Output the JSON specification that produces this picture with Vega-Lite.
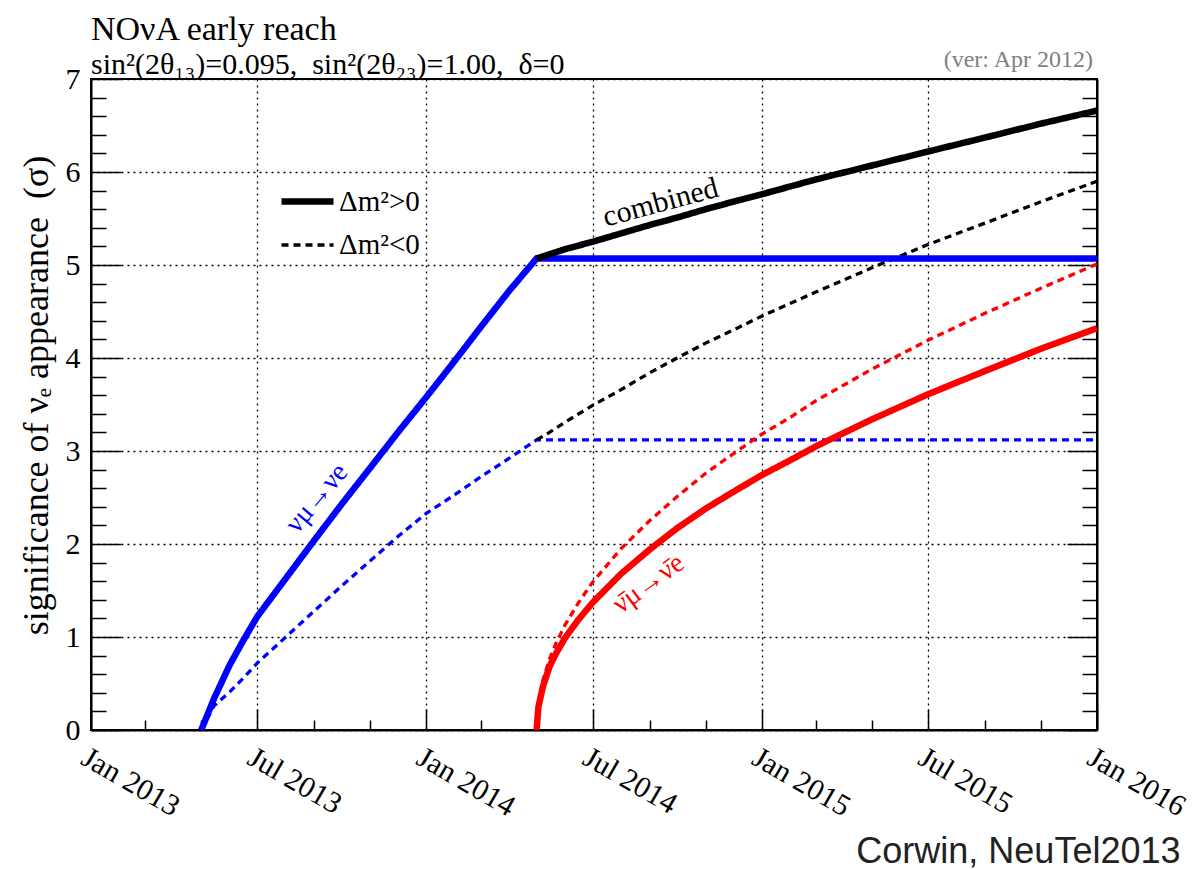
{
  "$schema": "https://vega.github.io/schema/vega-lite/v6.json",
  "width": 1006,
  "height": 651,
  "autosize": {"type": "none"},
  "padding": {"left": 91, "top": 79, "right": 103, "bottom": 139},
  "background": "white",
  "title": {
    "text": "NOνA early reach",
    "subtitle": "sin²(2θ₁₃)=0.095,\u00a0\u00a0sin²(2θ₂₃)=1.00,\u00a0\u00a0δ=0",
    "anchor": "start",
    "frame": "group",
    "font": "Liberation Serif",
    "fontSize": 34,
    "fontWeight": "normal",
    "color": "black",
    "subtitleFont": "Liberation Serif",
    "subtitleFontSize": 30,
    "subtitleColor": "black",
    "offset": -32,
    "subtitlePadding": 3
  },
  "config": {
    "font": "Liberation Serif",
    "view": {"stroke": "black", "strokeWidth": 2},
    "axis": {
      "domainColor": "black",
      "domainWidth": 2,
      "tickColor": "black",
      "tickWidth": 1.5,
      "gridColor": "black",
      "gridDash": [2, 4],
      "gridWidth": 1.3,
      "labelFont": "Liberation Serif",
      "labelFontSize": 30,
      "labelColor": "black",
      "titleFont": "Liberation Serif",
      "titleFontSize": 36,
      "titleFontWeight": "normal",
      "titleColor": "black",
      "labelOverlap": false
    },
    "legend": {
      "labelFont": "Liberation Serif",
      "labelFontSize": 29,
      "labelColor": "black"
    },
    "text": {"font": "Liberation Serif"}
  },
  "datasets": {
    "curves": [
      {"date": "2013/05/01", "sigma": 0, "channel": "nu", "hierarchy": "Δm²>0"},
      {"date": "2013/05/15", "sigma": 0.34, "channel": "nu", "hierarchy": "Δm²>0"},
      {"date": "2013/06/01", "sigma": 0.7, "channel": "nu", "hierarchy": "Δm²>0"},
      {"date": "2013/06/15", "sigma": 0.95, "channel": "nu", "hierarchy": "Δm²>0"},
      {"date": "2013/07/01", "sigma": 1.22, "channel": "nu", "hierarchy": "Δm²>0"},
      {"date": "2013/08/01", "sigma": 1.63, "channel": "nu", "hierarchy": "Δm²>0"},
      {"date": "2013/09/01", "sigma": 2.04, "channel": "nu", "hierarchy": "Δm²>0"},
      {"date": "2013/10/01", "sigma": 2.43, "channel": "nu", "hierarchy": "Δm²>0"},
      {"date": "2013/11/01", "sigma": 2.82, "channel": "nu", "hierarchy": "Δm²>0"},
      {"date": "2013/12/01", "sigma": 3.2, "channel": "nu", "hierarchy": "Δm²>0"},
      {"date": "2014/01/01", "sigma": 3.58, "channel": "nu", "hierarchy": "Δm²>0"},
      {"date": "2014/02/01", "sigma": 3.97, "channel": "nu", "hierarchy": "Δm²>0"},
      {"date": "2014/03/01", "sigma": 4.33, "channel": "nu", "hierarchy": "Δm²>0"},
      {"date": "2014/04/01", "sigma": 4.72, "channel": "nu", "hierarchy": "Δm²>0"},
      {"date": "2014/05/01", "sigma": 5.07, "channel": "nu", "hierarchy": "Δm²>0"},
      {"date": "2016/01/01", "sigma": 5.07, "channel": "nu", "hierarchy": "Δm²>0"},

      {"date": "2013/05/01", "sigma": 0, "channel": "nu", "hierarchy": "Δm²<0"},
      {"date": "2013/05/15", "sigma": 0.26, "channel": "nu", "hierarchy": "Δm²<0"},
      {"date": "2013/06/01", "sigma": 0.41, "channel": "nu", "hierarchy": "Δm²<0"},
      {"date": "2013/06/15", "sigma": 0.55, "channel": "nu", "hierarchy": "Δm²<0"},
      {"date": "2013/07/01", "sigma": 0.72, "channel": "nu", "hierarchy": "Δm²<0"},
      {"date": "2013/08/01", "sigma": 1.0, "channel": "nu", "hierarchy": "Δm²<0"},
      {"date": "2013/09/01", "sigma": 1.28, "channel": "nu", "hierarchy": "Δm²<0"},
      {"date": "2013/10/01", "sigma": 1.55, "channel": "nu", "hierarchy": "Δm²<0"},
      {"date": "2013/11/01", "sigma": 1.82, "channel": "nu", "hierarchy": "Δm²<0"},
      {"date": "2013/12/01", "sigma": 2.08, "channel": "nu", "hierarchy": "Δm²<0"},
      {"date": "2014/01/01", "sigma": 2.33, "channel": "nu", "hierarchy": "Δm²<0"},
      {"date": "2014/02/01", "sigma": 2.53, "channel": "nu", "hierarchy": "Δm²<0"},
      {"date": "2014/03/01", "sigma": 2.72, "channel": "nu", "hierarchy": "Δm²<0"},
      {"date": "2014/04/01", "sigma": 2.92, "channel": "nu", "hierarchy": "Δm²<0"},
      {"date": "2014/05/01", "sigma": 3.12, "channel": "nu", "hierarchy": "Δm²<0"},
      {"date": "2016/01/01", "sigma": 3.12, "channel": "nu", "hierarchy": "Δm²<0"},

      {"date": "2014/05/01", "sigma": 0, "channel": "nubar", "hierarchy": "Δm²>0"},
      {"date": "2014/05/03", "sigma": 0.25, "channel": "nubar", "hierarchy": "Δm²>0"},
      {"date": "2014/05/08", "sigma": 0.47, "channel": "nubar", "hierarchy": "Δm²>0"},
      {"date": "2014/05/15", "sigma": 0.68, "channel": "nubar", "hierarchy": "Δm²>0"},
      {"date": "2014/05/22", "sigma": 0.82, "channel": "nubar", "hierarchy": "Δm²>0"},
      {"date": "2014/06/01", "sigma": 0.99, "channel": "nubar", "hierarchy": "Δm²>0"},
      {"date": "2014/06/15", "sigma": 1.18, "channel": "nubar", "hierarchy": "Δm²>0"},
      {"date": "2014/07/01", "sigma": 1.37, "channel": "nubar", "hierarchy": "Δm²>0"},
      {"date": "2014/08/01", "sigma": 1.68, "channel": "nubar", "hierarchy": "Δm²>0"},
      {"date": "2014/09/01", "sigma": 1.94, "channel": "nubar", "hierarchy": "Δm²>0"},
      {"date": "2014/10/01", "sigma": 2.17, "channel": "nubar", "hierarchy": "Δm²>0"},
      {"date": "2014/11/01", "sigma": 2.38, "channel": "nubar", "hierarchy": "Δm²>0"},
      {"date": "2014/12/01", "sigma": 2.56, "channel": "nubar", "hierarchy": "Δm²>0"},
      {"date": "2015/01/01", "sigma": 2.74, "channel": "nubar", "hierarchy": "Δm²>0"},
      {"date": "2015/02/01", "sigma": 2.9, "channel": "nubar", "hierarchy": "Δm²>0"},
      {"date": "2015/03/01", "sigma": 3.05, "channel": "nubar", "hierarchy": "Δm²>0"},
      {"date": "2015/05/01", "sigma": 3.34, "channel": "nubar", "hierarchy": "Δm²>0"},
      {"date": "2015/07/01", "sigma": 3.61, "channel": "nubar", "hierarchy": "Δm²>0"},
      {"date": "2015/09/01", "sigma": 3.86, "channel": "nubar", "hierarchy": "Δm²>0"},
      {"date": "2015/11/01", "sigma": 4.1, "channel": "nubar", "hierarchy": "Δm²>0"},
      {"date": "2016/01/01", "sigma": 4.32, "channel": "nubar", "hierarchy": "Δm²>0"},

      {"date": "2014/05/01", "sigma": 0, "channel": "nubar", "hierarchy": "Δm²<0"},
      {"date": "2014/05/03", "sigma": 0.28, "channel": "nubar", "hierarchy": "Δm²<0"},
      {"date": "2014/05/08", "sigma": 0.54, "channel": "nubar", "hierarchy": "Δm²<0"},
      {"date": "2014/05/15", "sigma": 0.76, "channel": "nubar", "hierarchy": "Δm²<0"},
      {"date": "2014/05/22", "sigma": 0.93, "channel": "nubar", "hierarchy": "Δm²<0"},
      {"date": "2014/06/01", "sigma": 1.13, "channel": "nubar", "hierarchy": "Δm²<0"},
      {"date": "2014/06/15", "sigma": 1.36, "channel": "nubar", "hierarchy": "Δm²<0"},
      {"date": "2014/07/01", "sigma": 1.59, "channel": "nubar", "hierarchy": "Δm²<0"},
      {"date": "2014/08/01", "sigma": 1.95, "channel": "nubar", "hierarchy": "Δm²<0"},
      {"date": "2014/09/01", "sigma": 2.25, "channel": "nubar", "hierarchy": "Δm²<0"},
      {"date": "2014/10/01", "sigma": 2.51, "channel": "nubar", "hierarchy": "Δm²<0"},
      {"date": "2014/11/01", "sigma": 2.76, "channel": "nubar", "hierarchy": "Δm²<0"},
      {"date": "2014/12/01", "sigma": 2.97, "channel": "nubar", "hierarchy": "Δm²<0"},
      {"date": "2015/01/01", "sigma": 3.18, "channel": "nubar", "hierarchy": "Δm²<0"},
      {"date": "2015/02/01", "sigma": 3.36, "channel": "nubar", "hierarchy": "Δm²<0"},
      {"date": "2015/03/01", "sigma": 3.54, "channel": "nubar", "hierarchy": "Δm²<0"},
      {"date": "2015/05/01", "sigma": 3.88, "channel": "nubar", "hierarchy": "Δm²<0"},
      {"date": "2015/07/01", "sigma": 4.19, "channel": "nubar", "hierarchy": "Δm²<0"},
      {"date": "2015/09/01", "sigma": 4.48, "channel": "nubar", "hierarchy": "Δm²<0"},
      {"date": "2015/11/01", "sigma": 4.75, "channel": "nubar", "hierarchy": "Δm²<0"},
      {"date": "2016/01/01", "sigma": 5.01, "channel": "nubar", "hierarchy": "Δm²<0"},

      {"date": "2014/05/01", "sigma": 5.07, "channel": "combined", "hierarchy": "Δm²>0"},
      {"date": "2014/06/01", "sigma": 5.17, "channel": "combined", "hierarchy": "Δm²>0"},
      {"date": "2014/07/01", "sigma": 5.25, "channel": "combined", "hierarchy": "Δm²>0"},
      {"date": "2014/08/01", "sigma": 5.34, "channel": "combined", "hierarchy": "Δm²>0"},
      {"date": "2014/09/01", "sigma": 5.43, "channel": "combined", "hierarchy": "Δm²>0"},
      {"date": "2014/10/01", "sigma": 5.51, "channel": "combined", "hierarchy": "Δm²>0"},
      {"date": "2014/11/01", "sigma": 5.6, "channel": "combined", "hierarchy": "Δm²>0"},
      {"date": "2014/12/01", "sigma": 5.68, "channel": "combined", "hierarchy": "Δm²>0"},
      {"date": "2015/01/01", "sigma": 5.76, "channel": "combined", "hierarchy": "Δm²>0"},
      {"date": "2015/03/01", "sigma": 5.92, "channel": "combined", "hierarchy": "Δm²>0"},
      {"date": "2015/05/01", "sigma": 6.07, "channel": "combined", "hierarchy": "Δm²>0"},
      {"date": "2015/07/01", "sigma": 6.22, "channel": "combined", "hierarchy": "Δm²>0"},
      {"date": "2015/09/01", "sigma": 6.37, "channel": "combined", "hierarchy": "Δm²>0"},
      {"date": "2015/11/01", "sigma": 6.52, "channel": "combined", "hierarchy": "Δm²>0"},
      {"date": "2016/01/01", "sigma": 6.66, "channel": "combined", "hierarchy": "Δm²>0"},

      {"date": "2014/05/01", "sigma": 3.12, "channel": "combined", "hierarchy": "Δm²<0"},
      {"date": "2014/05/15", "sigma": 3.2, "channel": "combined", "hierarchy": "Δm²<0"},
      {"date": "2014/06/01", "sigma": 3.31, "channel": "combined", "hierarchy": "Δm²<0"},
      {"date": "2014/07/01", "sigma": 3.49, "channel": "combined", "hierarchy": "Δm²<0"},
      {"date": "2014/08/01", "sigma": 3.66, "channel": "combined", "hierarchy": "Δm²<0"},
      {"date": "2014/09/01", "sigma": 3.84, "channel": "combined", "hierarchy": "Δm²<0"},
      {"date": "2014/10/01", "sigma": 4.0, "channel": "combined", "hierarchy": "Δm²<0"},
      {"date": "2014/11/01", "sigma": 4.16, "channel": "combined", "hierarchy": "Δm²<0"},
      {"date": "2014/12/01", "sigma": 4.3, "channel": "combined", "hierarchy": "Δm²<0"},
      {"date": "2015/01/01", "sigma": 4.45, "channel": "combined", "hierarchy": "Δm²<0"},
      {"date": "2015/03/01", "sigma": 4.71, "channel": "combined", "hierarchy": "Δm²<0"},
      {"date": "2015/05/01", "sigma": 4.97, "channel": "combined", "hierarchy": "Δm²<0"},
      {"date": "2015/07/01", "sigma": 5.22, "channel": "combined", "hierarchy": "Δm²<0"},
      {"date": "2015/09/01", "sigma": 5.45, "channel": "combined", "hierarchy": "Δm²<0"},
      {"date": "2015/11/01", "sigma": 5.68, "channel": "combined", "hierarchy": "Δm²<0"},
      {"date": "2016/01/01", "sigma": 5.9, "channel": "combined", "hierarchy": "Δm²<0"}
    ]
  },
  "layer": [
    {
      "data": {"name": "curves"},
      "transform": [{"filter": "datum.hierarchy == 'Δm²<0'"}],
      "mark": {"type": "line", "clip": true, "color": "black", "strokeCap": "butt"},
      "encoding": {
        "x": {
          "field": "date", "type": "temporal",
          "scale": {"domain": [{"year": 2013, "month": 1, "date": 1}, {"year": 2016, "month": 1, "date": 1}]},
          "axis": {
            "values": [
              {"year": 2013, "month": 1, "date": 1}, {"year": 2013, "month": 2, "date": 1}, {"year": 2013, "month": 3, "date": 1},
              {"year": 2013, "month": 4, "date": 1}, {"year": 2013, "month": 5, "date": 1}, {"year": 2013, "month": 6, "date": 1},
              {"year": 2013, "month": 7, "date": 1}, {"year": 2013, "month": 8, "date": 1}, {"year": 2013, "month": 9, "date": 1},
              {"year": 2013, "month": 10, "date": 1}, {"year": 2013, "month": 11, "date": 1}, {"year": 2013, "month": 12, "date": 1},
              {"year": 2014, "month": 1, "date": 1}, {"year": 2014, "month": 2, "date": 1}, {"year": 2014, "month": 3, "date": 1},
              {"year": 2014, "month": 4, "date": 1}, {"year": 2014, "month": 5, "date": 1}, {"year": 2014, "month": 6, "date": 1},
              {"year": 2014, "month": 7, "date": 1}, {"year": 2014, "month": 8, "date": 1}, {"year": 2014, "month": 9, "date": 1},
              {"year": 2014, "month": 10, "date": 1}, {"year": 2014, "month": 11, "date": 1}, {"year": 2014, "month": 12, "date": 1},
              {"year": 2015, "month": 1, "date": 1}, {"year": 2015, "month": 2, "date": 1}, {"year": 2015, "month": 3, "date": 1},
              {"year": 2015, "month": 4, "date": 1}, {"year": 2015, "month": 5, "date": 1}, {"year": 2015, "month": 6, "date": 1},
              {"year": 2015, "month": 7, "date": 1}, {"year": 2015, "month": 8, "date": 1}, {"year": 2015, "month": 9, "date": 1},
              {"year": 2015, "month": 10, "date": 1}, {"year": 2015, "month": 11, "date": 1}, {"year": 2015, "month": 12, "date": 1},
              {"year": 2016, "month": 1, "date": 1}
            ],
            "labelExpr": "month(datum.value) % 6 == 0 ? timeFormat(datum.value, '%b %Y') : ''",
            "labelAngle": 30,
            "labelAlign": "left",
            "labelBaseline": "top",
            "labelPadding": 33,
            "labelFlush": false,
            "labelBound": false,
            "tickSize": {"condition": {"test": "month(datum.value) % 6 == 0", "value": -21}, "value": -10},
            "gridOpacity": {"condition": {"test": "month(datum.value) % 6 == 0", "value": 1}, "value": 0},
            "title": "Corwin, NeuTel2013",
            "titleFont": "Liberation Sans",
            "titleFontSize": 36,
            "titleColor": "#222222",
            "titleAnchor": "end",
            "titleAlign": "right",
            "titleBaseline": "alphabetic",
            "titleX": 1089,
            "titleY": 132
          }
        },
        "y": {
          "field": "sigma", "type": "quantitative",
          "scale": {"domain": [0, 7], "nice": false},
          "axis": {
            "values": [0, 0.2, 0.4, 0.6, 0.8, 1, 1.2, 1.4, 1.6, 1.8, 2, 2.2, 2.4, 2.6, 2.8, 3, 3.2, 3.4, 3.6, 3.8, 4, 4.2, 4.4, 4.6, 4.8, 5, 5.2, 5.4, 5.6, 5.8, 6, 6.2, 6.4, 6.6, 6.8, 7],
            "labelExpr": "abs(datum.value - round(datum.value)) < 0.01 ? format(datum.value, 'd') : ''",
            "labelPadding": 41,
            "tickSize": {"condition": {"test": "abs(datum.value - round(datum.value)) < 0.01", "value": -30}, "value": -15},
            "gridOpacity": {"condition": {"test": "abs(datum.value - round(datum.value)) < 0.01", "value": 1}, "value": 0},
            "title": "significance of νₑ appearance\u00a0\u00a0(σ)",
            "titleX": -55,
            "titleY": 316,
            "titleAlign": "center",
            "titleAngle": -90,
            "titleBaseline": "middle"
          }
        },
        "color": {"field": "channel", "type": "nominal", "scale": {"domain": ["nu", "nubar", "combined"], "range": ["#0000ff", "#ff0000", "#000000"]}, "legend": null},
        "strokeDash": {"field": "hierarchy", "type": "ordinal", "scale": {"domain": ["Δm²>0", "Δm²<0"], "range": [[1, 0], [7, 5]]}, "legend": {"orient": "none", "legendX": 187, "legendY": 93, "title": null, "symbolType": "stroke", "symbolSize": 2704, "symbolStrokeColor": "black", "labelOffset": 2, "rowPadding": -28}},
        "strokeWidth": {"field": "hierarchy", "type": "ordinal", "scale": {"domain": ["Δm²>0", "Δm²<0"], "range": [6.5, 3.3]}, "legend": {"orient": "none", "legendX": 187, "legendY": 93, "title": null, "symbolType": "stroke", "symbolSize": 2704, "symbolStrokeColor": "black", "labelOffset": 2, "rowPadding": -28}}
      }
    },
    {
      "data": {"name": "curves"},
      "transform": [{"filter": "datum.hierarchy == 'Δm²>0'"}],
      "mark": {"type": "line", "clip": true, "color": "black", "strokeCap": "butt"},
      "encoding": {
        "x": {"field": "date", "type": "temporal"},
        "y": {
          "field": "sigma", "type": "quantitative",
          "axis": {
            "orient": "right",
            "values": [0, 0.2, 0.4, 0.6, 0.8, 1, 1.2, 1.4, 1.6, 1.8, 2, 2.2, 2.4, 2.6, 2.8, 3, 3.2, 3.4, 3.6, 3.8, 4, 4.2, 4.4, 4.6, 4.8, 5, 5.2, 5.4, 5.6, 5.8, 6, 6.2, 6.4, 6.6, 6.8, 7],
            "labels": false,
            "grid": false,
            "title": null,
            "tickSize": {"condition": {"test": "abs(datum.value - round(datum.value)) < 0.01", "value": -30}, "value": -15}
          }
        },
        "color": {"field": "channel", "type": "nominal", "legend": null},
        "strokeDash": {"field": "hierarchy", "type": "ordinal"},
        "strokeWidth": {"field": "hierarchy", "type": "ordinal"}
      }
    },
    {
      "data": {"values": [{}]},
      "mark": {"type": "text", "text": "combined", "angle": -15, "font": "Liberation Serif", "fontSize": 30, "color": "black", "align": "center", "baseline": "middle"},
      "encoding": {
        "x": {"datum": {"year": 2014, "month": 9, "date": 13}, "type": "temporal"},
        "y": {"datum": 5.67, "type": "quantitative", "axis": null}
      }
    },
    {
      "data": {"values": [{}]},
      "mark": {"type": "text", "text": "νμ→νe", "angle": -50, "font": "Liberation Serif", "fontSize": 28, "color": "#0000ff", "align": "center", "baseline": "middle"},
      "encoding": {
        "x": {"datum": {"year": 2013, "month": 9, "date": 4}, "type": "temporal"},
        "y": {"datum": 2.49, "type": "quantitative", "axis": null}
      }
    },
    {
      "data": {"values": [{}]},
      "mark": {"type": "text", "text": "ν̄μ→ν̄e", "angle": -36, "font": "Liberation Serif", "fontSize": 28, "color": "#ff0000", "align": "center", "baseline": "middle"},
      "encoding": {
        "x": {"datum": {"year": 2014, "month": 8, "date": 31}, "type": "temporal"},
        "y": {"datum": 1.57, "type": "quantitative", "axis": null}
      }
    },
    {
      "data": {"values": [{}]},
      "mark": {"type": "text", "text": "(ver: Apr 2012)", "font": "Liberation Serif", "fontSize": 24, "color": "#808080", "align": "right", "baseline": "alphabetic", "dx": -4, "dy": -12},
      "encoding": {
        "x": {"datum": {"year": 2016, "month": 1, "date": 1}, "type": "temporal"},
        "y": {"datum": 7, "type": "quantitative", "axis": null}
      }
    }
  ],
  "resolve": {"axis": {"y": "independent"}}
}
